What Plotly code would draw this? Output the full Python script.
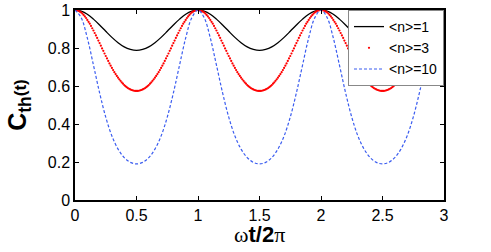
import numpy as np
import plotly.graph_objects as go

# x grid (omega t / 2 pi)
x_fine = np.round(np.arange(301) * 0.01, 2)
x_coarse = np.round(np.arange(61) * 0.05, 2)

# <n>=3 (red dots), read at step 0.01
red_period = [1, .999, .998, .995, .991, .987, .981, .974, .966, .958, .948, .938, .928, .916, .904,
              .892, .879, .866, .853, .839, .826, .812, .798, .785, .771, .758, .745, .732, .719, .707,
              .695, .684, .673, .663, .653, .644, .635, .627, .619, .612, .605, .599, .594, .589, .585,
              .582, .579, .577, .575, .574, .574, .574, .575, .577, .579, .582, .585, .589, .594, .599,
              .605, .612, .619, .627, .635, .644, .653, .663, .673, .684, .695, .707, .719, .732, .745,
              .758, .771, .785, .798, .812, .826, .839, .853, .866, .879, .892, .904, .916, .928, .938,
              .948, .958, .966, .974, .981, .987, .991, .995, .998, .999]
n3 = red_period * 3 + [1]

# <n>=1 (black solid), read at step 0.05
black_period = [1, .994, .978, .952, .921, .888, .856, .828, .806, .793, .788,
                .793, .806, .828, .856, .888, .921, .952, .978, .994]
n1 = black_period * 3 + [1]

# <n>=10 (blue dashed), read at step 0.05
blue_period = [1, .960, .853, .710, .564, .436, .337, .268, .223, .198, .190,
               .198, .223, .268, .337, .436, .564, .710, .853, .960]
n10 = blue_period * 3 + [1]

labels = ["&lt;n&gt;=1", "&lt;n&gt;=3", "&lt;n&gt;=10"]
x_ticks = [0, 0.5, 1, 1.5, 2, 2.5, 3]
y_ticks = [0, 0.2, 0.4, 0.6, 0.8, 1]
x_title = "<span style='font-family:Liberation Serif'>ω</span><b>t/2</b><span style='font-family:Liberation Serif'>π</span>"
y_title = "<b>C<sub>th</sub><span style='font-size:17px'>(t)</span></b>"

FONT = "Liberation Sans, Arial, sans-serif"

fig = go.Figure()
fig.add_trace(go.Scatter(x=x_coarse, y=n1, mode="lines", name=labels[0],
                         line=dict(color="black", width=1.3, shape="spline")))
fig.add_trace(go.Scatter(x=x_fine, y=n3, mode="markers", name=labels[1],
                         marker=dict(color="#ff0000", size=2.2, line=dict(width=0))))
fig.add_trace(go.Scatter(x=x_coarse, y=n10, mode="lines", name=labels[2],
                         line=dict(color="#3a5cf0", width=1.2, dash="3px,2px", shape="spline")))

axis_common = dict(showgrid=False, zeroline=False, showline=True, linecolor="black",
                   linewidth=1.5, mirror="allticks", ticks="inside", ticklen=4,
                   tickcolor="black", tickwidth=1, automargin=False,
                   tickfont=dict(family=FONT, size=16, color="black"))

fig.update_layout(
    width=491, height=252,
    margin=dict(l=75, r=47, t=10, b=52),
    paper_bgcolor="white", plot_bgcolor="white",
    font=dict(family=FONT, color="black"),
    xaxis=dict(range=[0, 3], tickvals=x_ticks, **axis_common),
    yaxis=dict(range=[0, 1], tickvals=y_ticks, **axis_common,
               title=dict(text=y_title,
                          font=dict(size=25, family=FONT, color="black"), standoff=14)),
    legend=dict(x=1, xanchor="right", y=1, yanchor="top", bgcolor="white",
                bordercolor="#888888", borderwidth=1, itemwidth=30,
                font=dict(family=FONT, size=14, color="black"), tracegroupgap=0),
    showlegend=True,
    annotations=[dict(text=x_title, xref="paper", yref="paper", x=0.5, y=0,
                      xanchor="center", yanchor="top", yshift=-20, showarrow=False,
                      font=dict(size=22, family=FONT, color="black"))],
)

# remove the default 8px page margin so the figure starts at the window corner
fig.write_html("out.html", config={"displayModeBar": False},
               post_script="document.body.style.margin='0px';")
